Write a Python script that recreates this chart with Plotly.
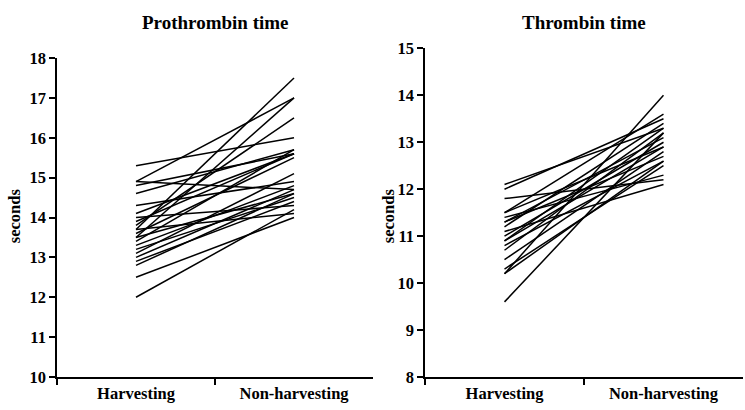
import plotly.graph_objects as go

groups = ["Harvesting", "Non-harvesting"]

# Prothrombin time (seconds), one pair per subject
pt_harvest = [15.3, 14.9, 14.9, 14.8, 14.6, 14.3, 14.1, 13.9, 13.8, 13.7, 13.6, 13.5,
              13.5, 13.4, 13.3, 13.2, 13.1, 13.0, 12.9, 12.8, 12.5, 12.0, 14.0, 13.7]
pt_nonharvest = [16.0, 17.0, 14.7, 15.6, 15.7, 14.9, 15.6, 15.6, 16.5, 17.5, 15.5, 17.0,
                 14.6, 15.7, 14.8, 14.5, 15.1, 14.7, 14.4, 14.6, 14.0, 14.2, 14.3, 14.1]

# Thrombin time (seconds)
tt_harvest = [12.1, 12.0, 11.8, 11.5, 11.4, 11.3, 11.3, 11.2, 11.1, 11.0,
              10.9, 10.8, 10.7, 10.5, 10.3, 10.2, 10.2, 9.6, 11.5, 10.9]
tt_nonharvest = [13.3, 13.5, 12.2, 13.6, 12.3, 13.1, 12.7, 13.4, 12.1, 13.0,
                 12.9, 12.6, 13.2, 12.8, 12.5, 14.0, 12.6, 13.2, 12.9, 13.3]

font_family = "Liberation Serif, Times New Roman, serif"

fig = go.Figure()

for a, b in zip(pt_harvest, pt_nonharvest):
    fig.add_trace(go.Scatter(x=groups, y=[a, b], mode="lines",
                             line=dict(color="black", width=1.5),
                             xaxis="x", yaxis="y", showlegend=False, hoverinfo="y"))

for a, b in zip(tt_harvest, tt_nonharvest):
    fig.add_trace(go.Scatter(x=groups, y=[a, b], mode="lines",
                             line=dict(color="black", width=1.5),
                             xaxis="x2", yaxis="y2", showlegend=False, hoverinfo="y"))

tick_font = dict(family=font_family, size=16.5, color="black", weight="bold")
xaxis_style = dict(type="category", tickson="boundaries", ticks="outside", ticklen=6,
                   tickwidth=1.5, tickcolor="black", showline=True, linecolor="black",
                   linewidth=1.5, showgrid=False, zeroline=False, tickfont=tick_font,
                   range=[-0.5, 1.5], fixedrange=True, automargin=False)
yaxis_style = dict(ticks="outside", ticklen=6, tickwidth=1.5, tickcolor="black",
                   showline=True, linecolor="black", linewidth=1.5, showgrid=False,
                   zeroline=False, tickfont=tick_font, dtick=1, automargin=False)

title_font = dict(family=font_family, size=19, color="black", weight="bold")

fig.update_layout(
    width=745, height=410,
    margin=dict(l=0, r=0, t=0, b=0),
    paper_bgcolor="white", plot_bgcolor="white",
    xaxis=dict(domain=[0.0765, 0.5007], anchor="y", **xaxis_style),
    yaxis=dict(domain=[0.0805, 0.8585], anchor="x", range=[10, 18], **yaxis_style),
    xaxis2=dict(domain=[0.5705, 0.9973], anchor="y2", **xaxis_style),
    yaxis2=dict(domain=[0.0805, 0.882], anchor="x2", range=[8, 15], **yaxis_style),
    annotations=[
        dict(text="Prothrombin time", x=0.2886, y=0.946, xref="paper", yref="paper",
             showarrow=False, xanchor="center", yanchor="middle", font=title_font),
        dict(text="Thrombin time", x=0.784, y=0.946, xref="paper", yref="paper",
             showarrow=False, xanchor="center", yanchor="middle", font=title_font),
        dict(text="seconds", x=14 / 745, y=0.475, xref="paper", yref="paper",
             showarrow=False, textangle=-90, xanchor="center", yanchor="middle",
             font=tick_font),
        dict(text="seconds", x=388 / 745, y=0.475, xref="paper", yref="paper",
             showarrow=False, textangle=-90, xanchor="center", yanchor="middle",
             font=tick_font),
    ],
)

# page body has a default 8px margin; drop it so the figure fills the window
fig.write_html("out.html", config={"displayModeBar": False},
               post_script="document.body.style.margin='0';")
